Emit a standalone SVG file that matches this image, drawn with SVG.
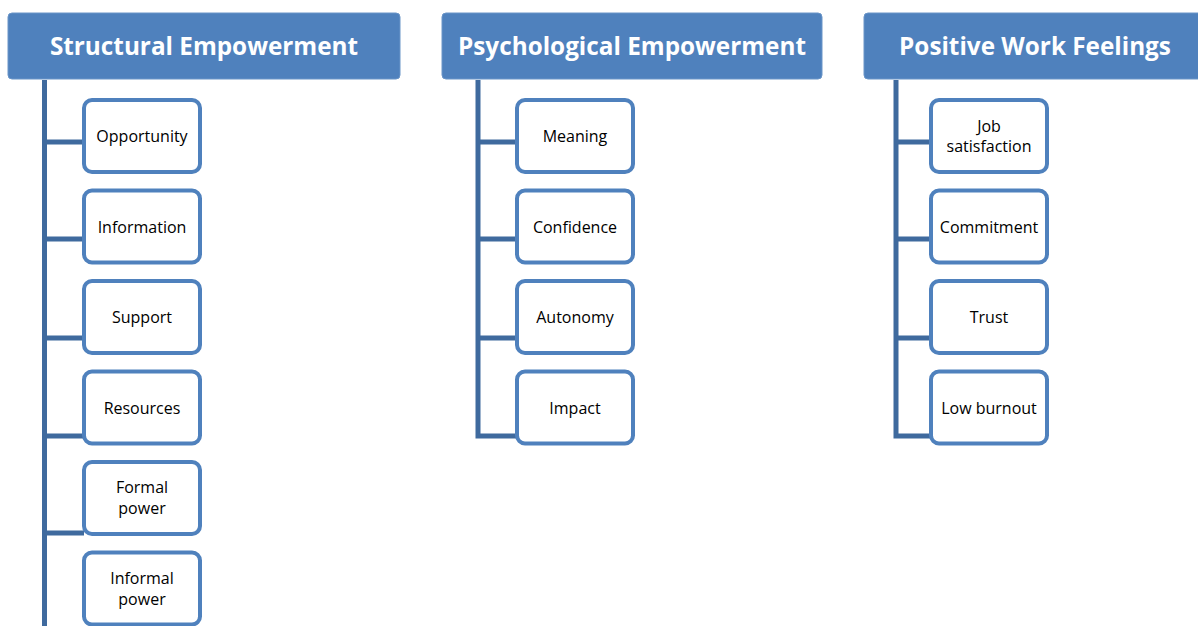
<svg xmlns="http://www.w3.org/2000/svg" width="1198" height="626" viewBox="0 0 1198 626">
<style>
.hdr{fill:#4F81BD;stroke:#6A95C8;stroke-width:1}
.ht{font-family:"Open Sans","Liberation Sans",sans-serif;font-weight:bold;font-size:24.3px;fill:#fff;text-anchor:middle;dominant-baseline:central}
.box{fill:#fff;stroke:#4F81BD;stroke-width:4}
.bt{font-family:"Open Sans","Liberation Sans",sans-serif;font-size:16px;fill:#000;text-anchor:middle;dominant-baseline:central}
.con{fill:none;stroke:#3F6A9E;stroke-width:5}
</style>
<g id="connectors">
<path class="con" d="M44.5 80V626M44.5 142H84M44.5 239H84M44.5 338H84M44.5 436H84M44.5 533H84"/>
<path class="con" d="M478 80V436H518M478 142H518M478 239H518M478 338H518"/>
<path class="con" d="M896 80V436H931M896 142H931M896 239H931M896 338H931"/>
</g>
<g id="h1"><rect class="hdr" x="8" y="13" width="392" height="66" rx="4"/><text class="ht" x="204" y="45">Structural Empowerment</text></g>
<g id="h2"><rect class="hdr" x="442" y="13" width="380" height="66" rx="4"/><text class="ht" x="632" y="45">Psychological Empowerment</text></g>
<g id="h3"><rect class="hdr" x="864" y="13" width="342" height="66" rx="4"/><text class="ht" x="1035" y="45">Positive Work Feelings</text></g>
<g id="s1"><rect class="box" x="84" y="100" width="116" height="72" rx="8"/><text class="bt" x="142" y="136">Opportunity</text></g>
<g id="s2"><rect class="box" x="84" y="190.5" width="116" height="72" rx="8"/><text class="bt" x="142" y="226.5">Information</text></g>
<g id="s3"><rect class="box" x="84" y="281" width="116" height="72" rx="8"/><text class="bt" x="142" y="317">Support</text></g>
<g id="s4"><rect class="box" x="84" y="371.5" width="116" height="72" rx="8"/><text class="bt" x="142" y="407.5">Resources</text></g>
<g id="s5"><rect class="box" x="84" y="462" width="116" height="72" rx="8"/><text class="bt" x="142" y="487">Formal</text><text class="bt" x="142" y="508">power</text></g>
<g id="s6"><rect class="box" x="84" y="552.5" width="116" height="72" rx="8"/><text class="bt" x="142" y="577.5">Informal</text><text class="bt" x="142" y="598.5">power</text></g>
<g id="p1"><rect class="box" x="517" y="100" width="116" height="72" rx="8"/><text class="bt" x="575" y="136">Meaning</text></g>
<g id="p2"><rect class="box" x="517" y="190.5" width="116" height="72" rx="8"/><text class="bt" x="575" y="226.5">Confidence</text></g>
<g id="p3"><rect class="box" x="517" y="281" width="116" height="72" rx="8"/><text class="bt" x="575" y="317">Autonomy</text></g>
<g id="p4"><rect class="box" x="517" y="371.5" width="116" height="72" rx="8"/><text class="bt" x="575" y="407.5">Impact</text></g>
<g id="w1"><rect class="box" x="931" y="100" width="116" height="72" rx="8"/><text class="bt" x="989" y="126">Job</text><text class="bt" x="989" y="146">satisfaction</text></g>
<g id="w2"><rect class="box" x="931" y="190.5" width="116" height="72" rx="8"/><text class="bt" x="989" y="226.5">Commitment</text></g>
<g id="w3"><rect class="box" x="931" y="281" width="116" height="72" rx="8"/><text class="bt" x="989" y="317">Trust</text></g>
<g id="w4"><rect class="box" x="931" y="371.5" width="116" height="72" rx="8"/><text class="bt" x="989" y="407.5">Low burnout</text></g>
</svg>
